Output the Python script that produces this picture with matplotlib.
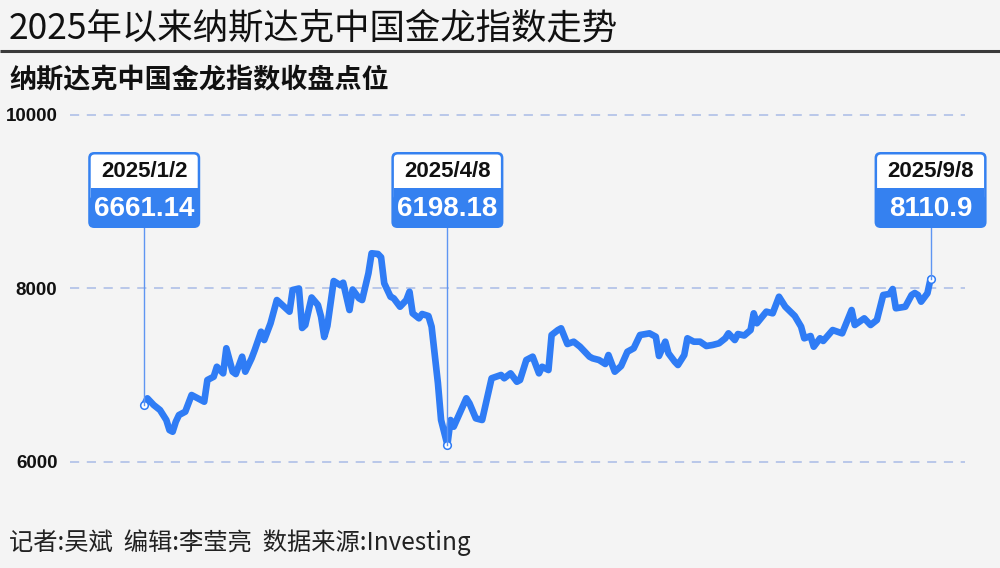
import matplotlib
matplotlib.use('Agg')
import matplotlib.pyplot as plt
import matplotlib.dates as mdates
from matplotlib.patches import FancyBboxPatch, Rectangle
import datetime as dt

# ---------------- data ----------------
dates = [
    "01-02", "01-03", "01-05", "01-07", "01-09", "01-10", "01-11", "01-12", "01-13", "01-15",
    "01-17", "01-19", "01-21", "01-22", "01-24", "01-25", "01-27", "01-28", "01-30", "01-31",
    "02-02", "02-03", "02-05", "02-06", "02-08", "02-09", "02-11", "02-13", "02-17", "02-18",
    "02-20", "02-21", "02-22", "02-24", "02-26", "02-27", "02-28", "03-01", "03-03", "03-05",
    "03-06", "03-08", "03-09", "03-11", "03-12", "03-14", "03-15", "03-17", "03-18", "03-19",
    "03-21", "03-22", "03-24", "03-26", "03-27", "03-28", "03-30", "03-31", "04-02", "04-03",
    "04-05", "04-06", "04-08", "04-09", "04-10", "04-14", "04-15", "04-17", "04-19", "04-22",
    "04-25", "04-26", "04-28", "04-30", "05-01", "05-03", "05-05", "05-07", "05-08", "05-10",
    "05-11", "05-13", "05-14", "05-16", "05-18", "05-20", "05-23", "05-24", "05-26", "05-28",
    "05-29", "05-31", "06-02", "06-04", "06-06", "06-07", "06-08", "06-11", "06-13", "06-14",
    "06-16", "06-17", "06-19", "06-20", "06-22", "06-23", "06-25", "06-27", "06-29", "07-01",
    "07-03", "07-05", "07-06", "07-08", "07-09", "07-11", "07-13", "07-14", "07-15", "07-18",
    "07-20", "07-22", "07-24", "07-27", "07-29", "07-30", "08-01", "08-02", "08-04", "08-05",
    "08-08", "08-11", "08-14", "08-15", "08-18", "08-20", "08-22", "08-24", "08-26", "08-27",
    "08-28", "08-31", "09-02", "09-03", "09-04", "09-05", "09-07", "09-08",
]
values = [
    6661.14, 6734, 6657, 6599, 6484, 6368, 6349, 6464, 6541, 6580,
    6772, 6734, 6695, 6945, 6983, 7098, 7022, 7311, 7041, 7014,
    7214, 7041, 7195, 7291, 7502, 7406, 7599, 7867, 7733, 7983,
    8000, 7545, 7579, 7896, 7810, 7675, 7441, 7568, 8086, 8040,
    8067, 7752, 7988, 7887, 7867, 8175, 8406, 8398, 8360, 8060,
    7905, 7887, 7790, 7867, 7963, 7714, 7656, 7706, 7683, 7560,
    6910, 6484, 6198.18, 6484, 6407, 6734, 6676, 6503, 6484, 6965,
    7003, 6965, 7022, 6925, 6945, 7176, 7214, 7022, 7098, 7060,
    7464, 7521, 7541, 7360, 7387, 7329, 7214, 7195, 7176, 7130,
    7233, 7041, 7106, 7271, 7311, 7387, 7464, 7483, 7444, 7222,
    7387, 7253, 7156, 7118, 7233, 7426, 7387, 7387, 7337, 7349,
    7368, 7426, 7483, 7406, 7475, 7458, 7521, 7714, 7599, 7733,
    7714, 7905, 7790, 7683, 7560, 7426, 7452, 7329, 7426, 7395,
    7521, 7483, 7752, 7579, 7656, 7579, 7637, 7925, 7937, 7994,
    7772, 7790, 7925, 7948, 7925, 7848, 7945, 8110.9,
]
yticks = [6000, 8000, 10000]
ytick_labels = ["6000", "8000", "10000"]

ann_dates = ["01-02", "04-08", "09-08"]
ann_date_labels = ["2025/1/2", "2025/4/8", "2025/9/8"]
ann_value_labels = ["6661.14", "6198.18", "8110.9"]

title = "2025年以来纳斯达克中国金龙指数走势"
subtitle = "纳斯达克中国金龙指数收盘点位"
footer = "记者:吴斌  编辑:李莹亮  数据来源:Investing"

# ---------------- style ----------------
W, H = 1000, 568
BG = "#f4f4f4"
BLUE = "#2f7cf5"
BOX_BLUE = "#3581f0"
GRID = "#a9bbe6"
CJK = ["Noto Sans CJK SC", "DejaVu Sans"]
LAT = ["Liberation Sans", "DejaVu Sans"]

fig = plt.figure(figsize=(W / 100, H / 100), dpi=100)
fig.patch.set_facecolor(BG)

ax = fig.add_axes([70 / W, 1 - 462 / H, 895 / W, 347 / H])
ax.set_facecolor("none")

x = [mdates.date2num(dt.date(2025, int(d[:2]), int(d[3:]))) for d in dates]
ax.plot(x, values, color=BLUE, lw=4.8, solid_joinstyle="round",
        solid_capstyle="round", zorder=3)
ax.set_xlim(x[0] - 23.5, x[-1] + 10.9)
ax.set_ylim(yticks[0], yticks[-1])

for v in yticks:
    ax.axhline(v, color=GRID, lw=1.1, ls=(0, (6, 5)), clip_on=False, zorder=1)

ax.set_yticks(yticks)
ax.set_yticklabels(ytick_labels, fontfamily=LAT, fontweight="bold",
                   fontsize=13.5, color="#111111")
ax.tick_params(axis="y", length=0, pad=9)
ax.set_xticks([])
for s in ax.spines.values():
    s.set_visible(False)

# overlay in pixel coordinates (origin top-left)
ov = fig.add_axes([0, 0, 1, 1], zorder=5)
ov.set_xlim(0, W)
ov.set_ylim(H, 0)
ov.axis("off")
ov.patch.set_alpha(0)

ov.text(9, 28, title, fontfamily=CJK, fontsize=25.5, fontweight="medium",
        color="#111111", ha="left", va="center")
ov.plot([0, W], [50.5, 50.5], color="#3a3a3a", lw=2.2, solid_capstyle="butt")
ov.text(9, 80, subtitle, fontfamily=CJK, fontsize=19.5, fontweight="bold",
        color="#111111", ha="left", va="center")
ov.text(9, 543, footer, fontfamily=CJK, fontsize=17.5, color="#222222",
        ha="left", va="center")

# annotations
box_top, box_bot, box_div = 152, 228, 188
box_w = 112
for d, dl, vl in zip(ann_dates, ann_date_labels, ann_value_labels):
    i = dates.index(d)
    xi, vi = x[i], values[i]
    px, py = ax.transData.transform((xi, vi))
    cx = px
    py_top = H - py
    # connector
    ov.plot([cx, cx], [box_bot, py_top], color="#5e95f2", lw=1.0, zorder=2)
    # marker
    ax.plot([xi], [vi], marker="o", ms=5.5, mfc="white", mec=BLUE, mew=1.1,
            zorder=6, clip_on=False)
    # box
    ov.add_patch(FancyBboxPatch((cx - box_w / 2, box_top), box_w, box_bot - box_top,
                                boxstyle="round,pad=0,rounding_size=6",
                                fc=BOX_BLUE, ec="none", zorder=3))
    ov.add_patch(FancyBboxPatch((cx - box_w / 2 + 2.5, box_top + 2.5), box_w - 5,
                                (box_div - box_top) + 10,
                                boxstyle="round,pad=0,rounding_size=4",
                                fc="white", ec="none", zorder=4))
    ov.add_patch(Rectangle((cx - box_w / 2 + 2.5, box_div), box_w - 5, 14,
                           fc=BOX_BLUE, ec="none", zorder=5))
    ov.text(cx, (box_top + box_div) / 2 + 1.5, dl, fontfamily=LAT, fontweight="bold",
            fontsize=16, color="#111111", ha="center", va="center", zorder=6)
    ov.text(cx, (box_div + box_bot) / 2 + 0.5, vl, fontfamily=LAT, fontweight="bold",
            fontsize=20, color="white", ha="center", va="center", zorder=6)

fig.savefig("out.png", dpi=100, facecolor=BG)
